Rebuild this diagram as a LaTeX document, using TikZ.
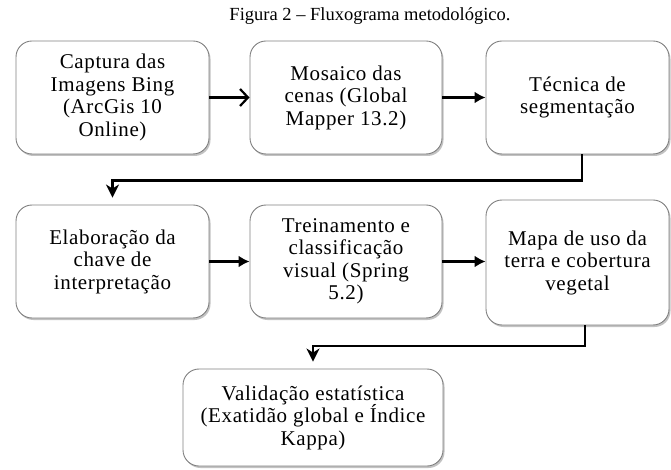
\documentclass[tikz,border=0pt]{standalone}
\usepackage{fontspec}
\setmainfont{Liberation Serif}
\newfontfamily\boxfont[LetterSpace=3]{Liberation Serif}
\usetikzlibrary{arrows.meta,shadows,calc}
\begin{document}
\begin{tikzpicture}[x=1bp,y=-1bp,
  box/.style={draw=black!50, line width=0.9bp, fill=white, rounded corners=16bp,
    drop shadow={shadow xshift=1.5bp, shadow yshift=-2bp, opacity=0.4, fill=black!60},
    align=center, inner sep=2bp,
    font=\boxfont\fontsize{21bp}{22.5bp}\selectfont},
  conn/.style={line width=2.2bp, black},
  tipA/.style={-{Straight Barb[length=8bp,width=17bp,line width=2.2bp]}},
  tipB/.style={-{Latex[length=11bp,width=12bp]}},
  tipC/.style={-{Stealth[length=13bp,width=13bp,inset=4bp]}, shorten >=7bp}
]
\useasboundingbox (0,0) rectangle (671,470);
\node[font=\fontsize{18.5bp}{20bp}\selectfont, anchor=base] (title) at (370,21) {Figura 2 -- Fluxograma metodológico.};

\node[box, minimum width=193bp, minimum height=113bp] (b1) at (112.5,97.5)
  {Captura das\\Imagens Bing\\(ArcGis 10\\Online)};
\node[box, minimum width=192bp, minimum height=113bp] (b2) at (346,97.5)
  {Mosaico das\\cenas (Global\\Mapper 13.2)};
\node[box, minimum width=183bp, minimum height=113bp] (b3) at (577.5,97.5)
  {Técnica de\\segmentação};
\node[box, minimum width=193bp, minimum height=113bp] (b4) at (112.5,261.5)
  {Elaboração da\\chave de\\interpretação};
\node[box, minimum width=192bp, minimum height=113bp] (b5) at (346,261.5)
  {Treinamento e\\classificação\\visual (Spring\\5.2)};
\node[box, minimum width=183bp, minimum height=125bp] (b6) at (577.5,262.5)
  {Mapa de uso da\\terra e cobertura\\vegetal};
\node[box, minimum width=260bp, minimum height=97bp] (b7) at (313,417.5)
  {Validação estatística\\(Exatidão global e Índice\\Kappa)};

\coordinate (k1) at (112.5,180.5);
\coordinate (k2) at (313,346);

\draw[conn,tipA] (b1.east) -- (b2.west);
\draw[conn,tipB] (b2.east) -- (b3.west);
\draw[conn,tipB] (b4.east) -- (b5.west);
\draw[conn,tipB] (b5.east) -- (b5.east -| b6.west);
\draw[conn,tipC] ([xshift=4.5bp]b3.south) |- (k1) -- (b4.north);
\draw[conn,tipC] ([xshift=7.5bp]b6.south) |- (k2) -- (b7.north);
\end{tikzpicture}
\end{document}
